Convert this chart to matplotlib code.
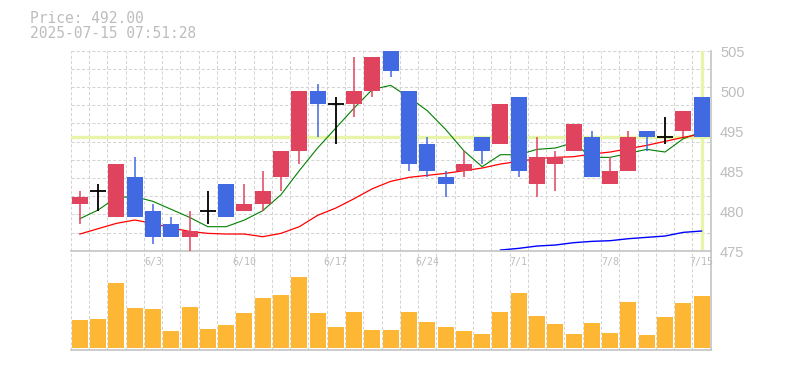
import matplotlib
matplotlib.use("Agg")
import matplotlib.pyplot as plt
import numpy as np

# ---------------- data ----------------
opens  = [482, 484, 480, 486, 481, 479, 477, 481, 485, 481, 482, 486, 490, 499, 497, 497, 499, 505,
          499, 491, 486, 487, 492, 491, 498, 485, 488, 490, 492, 485, 487, 493, 492, 493, 498]
highs  = [484, 485, 488, 489, 482, 480, 481, 484, 485, 485, 487, 490, 499, 500, 498, 504, 504, 505,
          499, 492, 487, 490, 492, 497, 498, 492, 490, 494, 493, 489, 493, 493, 495, 496, 498]
lows   = [479, 481, 480, 480, 476, 477, 475, 479, 480, 481, 481, 484, 488, 492, 491, 495, 498, 501,
          487, 486, 483, 486, 488, 491, 486, 483, 484, 490, 486, 485, 487, 490, 491, 492, 492]
closes = [483, 484, 488, 480, 477, 477, 478, 481, 480, 482, 484, 490, 499, 497, 497, 499, 504, 502,
          488, 487, 485, 488, 490, 497, 487, 489, 489, 494, 486, 487, 492, 492, 492, 496, 492]

ma_short = [479.8, 481.1, 483.0, 483.1, 482.4, 481.2, 480.0, 478.6, 478.6, 479.6, 481.0, 483.4,
            487.0, 490.4, 493.4, 496.4, 499.2, 499.8, 498.0, 496.0, 493.2, 490.0, 487.6, 489.4,
            489.4, 490.2, 490.4, 491.2, 489.0, 489.0, 489.6, 490.2, 489.8, 491.8, 492.8]
ma_mid = [477.5, 478.3, 479.1, 479.6, 479.1, 478.4, 477.9, 477.6, 477.5, 477.5, 477.1, 477.6,
          478.6, 480.3, 481.4, 482.8, 484.3, 485.4, 486.0, 486.3, 486.6, 487.0, 487.4, 488.0,
          488.4, 488.8, 489.0, 489.1, 489.5, 489.8, 490.3, 490.8, 491.4, 492.0, 492.5]
ma_long_start = 23
ma_long = [475.1, 475.35, 475.7, 475.85, 476.2, 476.4, 476.5, 476.8, 477.0, 477.2, 477.75, 477.95]

volumes = [85, 88, 196, 121, 118, 52, 124, 58, 70, 106, 151, 160, 214, 106, 64, 109, 55, 55,
           109, 79, 64, 52, 43, 109, 166, 97, 73, 43, 76, 46, 139, 40, 94, 136, 157]

tick_idx = [4, 9, 14, 19, 24, 29, 34]
tick_labels = ['6/3', '6/10', '6/17', '6/24', '7/1', '7/8', '7/15']
ytick_labels = ['505', '500', '495', '485', '480', '475']

last_price = 492.00
title1 = "Price: 492.00"
title2 = "2025-07-15 07:51:28"

# ---------------- style ----------------
RED = '#E0435E'
BLUE = '#4169E1'
ORANGE = '#FDB734'
YEL = '#E6F5A8'
GRID = '#d4d4d4'
SPINE = '#c4c4c4'
TXT = '#bdbdbd'

W, H = 785, 370
fig = plt.figure(figsize=(W / 100, H / 100), dpi=100)

def box(l, t, r, b):
    return [l / W, 1 - b / H, (r - l) / W, (b - t) / H]

ax = fig.add_axes(box(70.7, 50.7, 710.7, 250.7))
ax2 = fig.add_axes(box(70.7, 250.7, 710.7, 349.7))
ax2.patch.set_alpha(0)

n = len(closes)
x = np.arange(n)
ymin, ymax = 475, 505
ax.set_xlim(-0.5, n - 0.5)
ax.set_ylim(ymin, ymax)
ax2.set_xlim(-0.5, n - 0.5)
ax2.set_ylim(-4, 293)

dash = (0, (3, 2))
for a in (ax, ax2):
    for b in np.arange(-0.5, n - 1, 1.0):
        a.axvline(b, color=GRID, lw=0.75, ls=dash, zorder=0.5, clip_on=False)
for k in range(11):
    ax.axhline(ymax - k * (ymax - ymin) / 11, color=GRID, lw=0.75, ls=dash, zorder=0.5, clip_on=False)

# current price lines
ax.axhline(last_price, color=YEL, lw=2.4, zorder=1)
ax.axvline(x[-1], ymin=0.012, ymax=1, color=YEL, lw=2.4, zorder=1)

# moving averages
ax.plot(x, ma_short, color='green', lw=0.8, zorder=2)
ax.plot(x, ma_mid, color='red', lw=0.9, zorder=2)
ax.plot(x[ma_long_start:], ma_long, color='blue', lw=1.0, zorder=2)

# candles
bw = 0.87
for i in range(n):
    o, h, l, c = opens[i], highs[i], lows[i], closes[i]
    if c > o:
        col = RED
    elif c < o:
        col = BLUE
    else:
        col = 'black'
    if c == o:
        ax.vlines(x[i], l, h, color=col, lw=1.3, zorder=3)
        ax.hlines(c, x[i] - bw / 2, x[i] + bw / 2, color=col, lw=1.3, zorder=3)
    else:
        ax.vlines(x[i], l, h, color=col, lw=1.1, zorder=3)
        ax.bar(x[i], abs(c - o), bottom=min(o, c), width=bw, color=col, zorder=4, linewidth=0)

# volume
ax2.bar(x, volumes, width=bw, color=ORANGE, zorder=2, linewidth=0)

# spines / ticks
for a in (ax, ax2):
    for s in ('top', 'left'):
        a.spines[s].set_visible(False)
    for s in ('right', 'bottom'):
        a.spines[s].set_color(SPINE)
        a.spines[s].set_linewidth(1.2)
    a.set_xticks([])
    a.set_yticks([])

# y labels
for k, s in enumerate(ytick_labels):
    yv = ymax - k * 6 - 0.35
    ax.text(1.0145, yv, s, transform=ax.get_yaxis_transform(), ha='left', va='center',
            fontsize=10.5, color=TXT, family='Liberation Sans', clip_on=False)

# date labels
for i, s in zip(tick_idx, tick_labels):
    ax2.text(x[i], 0.886, s, transform=ax2.get_xaxis_transform(), ha='center', va='center',
             fontsize=7.2, color=TXT, family='DejaVu Sans Mono')

fig.text(30 / W, 1 - 23 / H, title1, ha='left', va='baseline', fontsize=10.5,
         color=TXT, family='DejaVu Sans Mono')
fig.text(30 / W, 1 - 37.7 / H, title2, ha='left', va='baseline', fontsize=10.5,
         color=TXT, family='DejaVu Sans Mono')

fig.savefig('out.png', dpi=100, facecolor='white')
